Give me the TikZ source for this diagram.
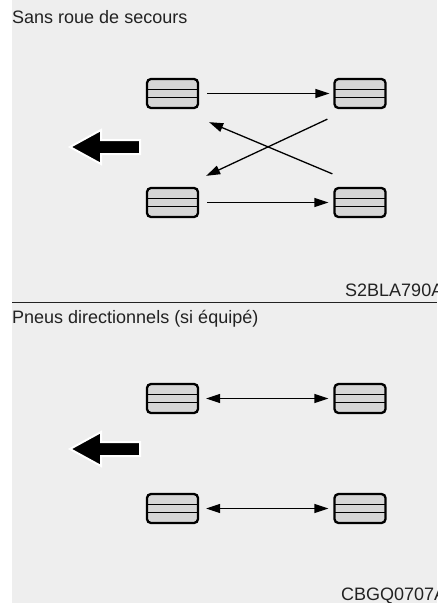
\documentclass[tikz,border=0pt]{standalone}
\usepackage{fontspec}
\setmainfont{Liberation Sans}
\usetikzlibrary{arrows.meta,calc}
\definecolor{bg}{HTML}{EEEEEE}
\definecolor{boxfill}{HTML}{D6D6D6}
\definecolor{txt}{HTML}{222222}
\begin{document}
\begin{tikzpicture}[x=1pt,y=-1pt,
  tire/.style={draw=black, line width=2.3pt, rounded corners=4pt, fill=boxfill,
    minimum width=51pt, minimum height=29pt, inner sep=0pt,
    path picture={
      \draw[line width=1.4pt]
        ($(path picture bounding box.north west)!0.37!(path picture bounding box.south west)$) --
        ($(path picture bounding box.north east)!0.37!(path picture bounding box.south east)$);
      \draw[line width=1.4pt]
        ($(path picture bounding box.north west)!0.63!(path picture bounding box.south west)$) --
        ($(path picture bounding box.north east)!0.63!(path picture bounding box.south east)$);
    }},
  conn/.style={line width=1.3pt, -{Triangle[length=14pt,width=9pt]}},
  dconn/.style={line width=1.3pt, {Triangle[length=14pt,width=9pt]}-{Triangle[length=14pt,width=9pt]}},
  lbl/.style={font=\fontsize{18}{20}\selectfont, text=txt, anchor=base west, inner sep=0pt},
  bigarrow/.style={fill=black, draw=white, line width=2pt, line join=miter}
]
\useasboundingbox (0,0) rectangle (437,603);
\fill[white] (0,0) rectangle (437,603);
\fill[bg] (12,0) rectangle (437,603);

% ---------- top section ----------
\node[lbl] (t1) at (12,23) {Sans roue de secours};
\node[tire] (tl) at (172.5,93.5) {};
\node[tire] (tr) at (360,93.5) {};
\node[tire] (bl) at (172.5,202.5) {};
\node[tire] (br) at (360,202.5) {};
\draw[conn] ([xshift=8pt]tl.east) -- ([xshift=-4pt]tr.west);
\draw[conn] ([xshift=8pt]bl.east) -- ([xshift=-5pt]br.west);
\draw[conn] ($(br.north west)+(-1,-13)$) -- ($(tl.south east)+(10,13)$);
\draw[conn] ($(tr.south west)+(-6,10)$) -- ($(bl.north east)+(7,-11)$);
\draw[bigarrow] (70,147) -- (101,130) -- (101,140) -- (140,140) -- (140,154) -- (101,154) -- (101,164) -- cycle;
\node[lbl] (c1) at (345,296) {S2BLA790A};

\coordinate (sepL) at (12,302);
\coordinate (sepR) at (437,302);
\draw[line width=1pt, draw=txt] (sepL) -- (sepR);

% ---------- bottom section ----------
\node[lbl] (t2) at (12,323) {Pneus directionnels (si équipé)};
\node[tire] (dtl) at (172.5,398.5) {};
\node[tire] (dtr) at (360,398.5) {};
\node[tire] (dbl) at (172.5,508.5) {};
\node[tire] (dbr) at (360,508.5) {};
\draw[dconn] ([xshift=7pt]dtl.east) -- ([xshift=-5pt]dtr.west);
\draw[dconn] ([xshift=7pt]dbl.east) -- ([xshift=-5pt]dbr.west);
\draw[bigarrow] (70,449) -- (101,432) -- (101,442) -- (140,442) -- (140,456) -- (101,456) -- (101,466) -- cycle;
\node[lbl] (c2) at (341,600) {CBGQ0707A};
\end{tikzpicture}
\end{document}
